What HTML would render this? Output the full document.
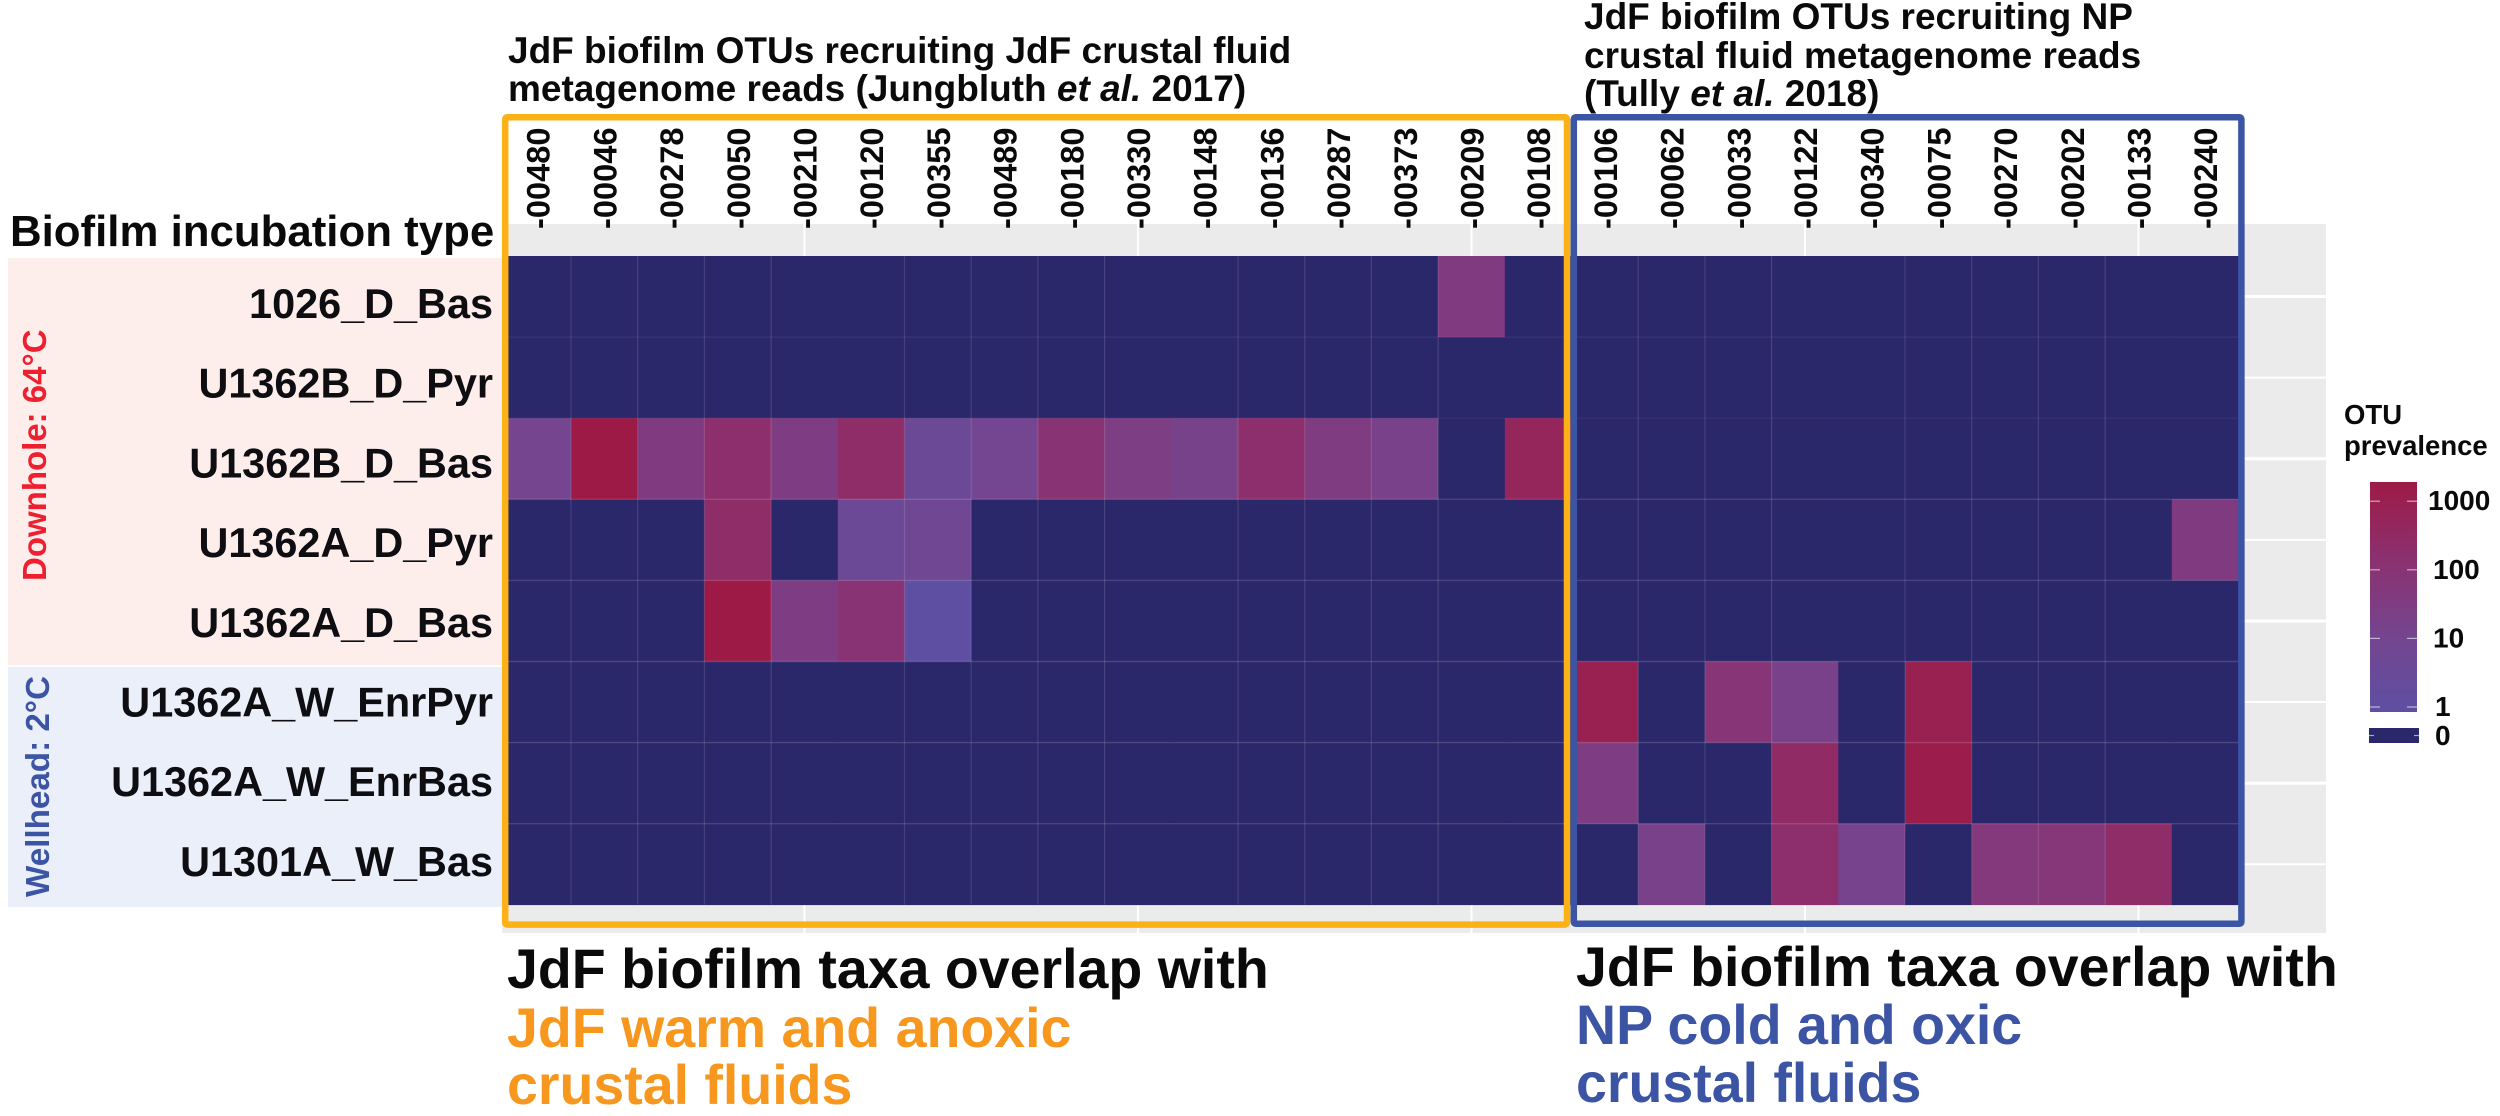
<!DOCTYPE html>
<html lang="en">
<head>
<meta charset="utf-8">
<title>JdF biofilm OTU prevalence heatmap</title>
<style>
html,body{margin:0;padding:0;background:#fff;width:2500px;height:1116px;overflow:hidden}
svg{display:block;font-family:"Liberation Sans",Arial,sans-serif;font-weight:700}
</style>
</head>
<body>
<svg id="chart" xmlns="http://www.w3.org/2000/svg" width="2500" height="1116" viewBox="0 0 2500 1116">
  <defs>
    <linearGradient id="colorbar-gradient" x1="0" y1="1" x2="0" y2="0">
      <stop offset="0" stop-color="#5e4fa2"/>
      <stop offset="0.33" stop-color="#75458f"/>
      <stop offset="0.66" stop-color="#8b3170"/>
      <stop offset="1" stop-color="#9e1a46"/>
    </linearGradient>
  </defs>

  <rect x="8" y="258" width="496" height="407" fill="#fdeeec"/>
  <rect x="8" y="667" width="496" height="240" fill="#ebeff9"/>
  <rect x="502" y="224" width="1824" height="709" fill="#ebebeb"/>
  <rect x="502" y="114" width="1742" height="110" fill="#ffffff"/>

  <g id="panel-grid"></g>
  <g id="cells"></g>
  <g id="cell-grid"></g>
  <g id="x-ticks"></g>
  <g id="y-ticks"></g>

  <rect x="505.2" y="117.2" width="1061.8" height="807.4" rx="2" fill="none" stroke="#fcb116" stroke-width="6.5"/>
  <rect x="1573.8" y="117.2" width="667.6" height="806.6" rx="2" fill="none" stroke="#3b54a4" stroke-width="6.5"/>

  <text x="10" y="246" font-size="43.8" fill="#0a0a0a">Biofilm incubation type</text>
  <text transform="translate(46 581) rotate(-90)" font-size="33" fill="#ee2030">Downhole: 64°C</text>
  <text transform="translate(49 897) rotate(-90)" font-size="33.2" fill="#3b54a4">Wellhead: 2°C</text>

  <g fill="#0a0a0a" font-size="37">
    <text x="508" y="63">JdF biofilm OTUs recruiting JdF crustal fluid</text>
    <text x="508" y="101">metagenome reads (Jungbluth <tspan font-style="italic">et al.</tspan> 2017)</text>
  </g>
  <g fill="#0a0a0a" font-size="37">
    <text x="1584" y="29">JdF biofilm OTUs recruiting NP</text>
    <text x="1584" y="68">crustal fluid metagenome reads</text>
    <text x="1584" y="106">(Tully <tspan font-style="italic">et al.</tspan> 2018)</text>
  </g>

  <g font-size="55.5">
    <text x="507" y="988" fill="#0a0a0a">JdF biofilm taxa overlap with</text>
    <text x="507" y="1047" fill="#f7971d">JdF warm and anoxic</text>
    <text x="507" y="1104" fill="#f7971d">crustal fluids</text>
  </g>
  <g font-size="55.5">
    <text x="1576" y="986" fill="#0a0a0a">JdF biofilm taxa overlap with</text>
    <text x="1576" y="1044" fill="#3b54a4">NP cold and oxic</text>
    <text x="1576" y="1102" fill="#3b54a4">crustal fluids</text>
  </g>

  <g id="legend">
    <text x="2344" y="424" font-size="27.5" fill="#0a0a0a">OTU</text>
    <text x="2344" y="455" font-size="27.5" fill="#0a0a0a">prevalence</text>
    <rect x="2370" y="482" width="47" height="230" fill="url(#colorbar-gradient)"/>
    <rect x="2369" y="728" width="50" height="15" fill="#2b276b"/>
  </g>
</svg>

<script>
const columns = ["-00480","-00046","-00278","-00050","-00210","-00120","-00355","-00489","-00180","-00330","-00148","-00136","-00287","-00373","-00209","-00108","-00106","-00062","-00033","-00122","-00340","-00075","-00270","-00202","-00133","-00240"];
const rows = ["1026_D_Bas","U1362B_D_Pyr","U1362B_D_Bas","U1362A_D_Pyr","U1362A_D_Bas","U1362A_W_EnrPyr","U1362A_W_EnrBas","U1301A_W_Bas"];
const row0 = [0,0,0,0,0,0,0,0,0,0,0,0,0,0,30,0,0,0,0,0,0,0,0,0,0,0];
const row1 = [0,0,0,0,0,0,0,0,0,0,0,0,0,0,0,0,0,0,0,0,0,0,0,0,0,0];
const row2 = [10,1000,30,120,25,150,4,9,70,22,13,120,28,15,0,300,0,0,0,0,0,0,0,0,0,0];
const row3 = [0,0,0,150,0,4,6,0,0,0,0,0,0,0,0,0,0,0,0,0,0,0,0,0,0,30];
const row4 = [0,0,0,1000,25,70,1,0,0,0,0,0,0,0,0,0,0,0,0,0,0,0,0,0,0,0];
const row5 = [0,0,0,0,0,0,0,0,0,0,0,0,0,0,0,0,500,0,60,15,0,500,0,0,0,0];
const row6 = [0,0,0,0,0,0,0,0,0,0,0,0,0,0,0,0,25,0,0,180,0,700,0,0,0,0];
const row7 = [0,0,0,0,0,0,0,0,0,0,0,0,0,0,0,0,0,15,0,120,12,0,40,50,150,0];
const legendTicks = [1000,100,10,1,0];

const NS = "http://www.w3.org/2000/svg";
const matrix = [row0,row1,row2,row3,row4,row5,row6,row7];

const plotLeft = 504.3, colWidth = 66.7, plotTop = 256, rowHeight = 81.1;
const xScale = i => plotLeft + i * colWidth;
const yScale = i => plotTop + i * rowHeight;
const rowLabelBaseline = i => 318 + 79.7 * i;
const legendY = v => 707 - Math.log10(v) * 68.6;

const colorStops = [[0,[94,79,162]],[0.33,[117,69,143]],[0.66,[139,49,112]],[1,[158,26,70]]];
function fillFor(v){
  if(v <= 0) return "#2b276b";
  const t = Math.min(1, Math.log10(v) / 3);
  for(let k = 1; k < colorStops.length; k++){
    if(t <= colorStops[k][0]){
      const a = colorStops[k-1], b = colorStops[k];
      const f = (t - a[0]) / (b[0] - a[0]);
      const c = a[1].map((x, j) => Math.round(x + (b[1][j] - x) * f));
      return "rgb(" + c.join(",") + ")";
    }
  }
  return "#9e1a46";
}
function make(tag, attrs, parent){
  const el = document.createElementNS(NS, tag);
  for(const k in attrs) el.setAttribute(k, attrs[k]);
  parent.appendChild(el);
  return el;
}

const panelGrid = document.getElementById("panel-grid");
columns.forEach((c, i) => {
  if(i % 5 !== 4) return;
  const line = make("line", {x1: xScale(i + .5), x2: xScale(i + .5), y1: 224, y2: 933, stroke: "#ffffff", "stroke-width": 2}, panelGrid);
  
  
});
rows.forEach((r, i) => {
  const line = make("line", {x1: 2244, x2: 2326, y1: yScale(i + .5), y2: yScale(i + .5), stroke: "#ffffff", "stroke-width": i % 2 ? 2 : 3}, panelGrid);
  
  
});

const cells = document.getElementById("cells");
matrix.forEach((vals, r) => {
  vals.forEach((v, c) => {
    const cell = make("rect", {x: xScale(c), y: yScale(r), width: colWidth + .3, height: rowHeight + .3, fill: fillFor(v)}, cells);
    
    
  });
});

const cellGrid = document.getElementById("cell-grid");
for(let c = 1; c < columns.length; c++){
  if(c % 5 === 0) continue;
  const line = make("line", {x1: xScale(c), x2: xScale(c), y1: yScale(0), y2: yScale(rows.length), stroke: "rgba(255,255,255,.12)", "stroke-width": 1.2}, cellGrid);
  
  
}
for(let r = 1; r < rows.length; r++){
  const line = make("line", {x1: xScale(0), x2: xScale(columns.length), y1: yScale(r), y2: yScale(r), stroke: r < 3 ? "rgba(255,255,255,.05)" : "rgba(255,255,255,.14)", "stroke-width": 1.4}, cellGrid);
  
  
}

const xTicks = document.getElementById("x-ticks");
columns.forEach((label, i) => {
  const t = make("text", {transform: "translate(" + (xScale(i + .5) + 12) + " 229) rotate(-90)", "font-size": 32.6, fill: "#0a0a0a"}, xTicks);
  t.textContent = label;
  
  
});

const yTicks = document.getElementById("y-ticks");
rows.forEach((label, i) => {
  const t = make("text", {x: 493, y: rowLabelBaseline(i), "text-anchor": "end", "font-size": 41.4, fill: "#0d0d12"}, yTicks);
  t.textContent = label;
  
  
});

const legend = document.getElementById("legend");
legendTicks.forEach(v => {
  const y = v > 0 ? legendY(v) : 735.5;
  const x0 = v > 0 ? 2370 : 2369, x1 = v > 0 ? 2417 : 2419;
  const a = make("line", {x1: x0, x2: x0 + (v > 0 ? 10 : 5), y1: y, y2: y, stroke: "rgba(255,255,255,.6)", "stroke-width": 1.2}, legend);
  
  
  const b = make("line", {x1: x1 - (v > 0 ? 10 : 5), x2: x1, y1: y, y2: y, stroke: "rgba(255,255,255,.6)", "stroke-width": 1.2}, legend);
  
  
  const labelX = v >= 1000 ? 2428 : (v >= 10 ? 2433 : 2435);
  const t = make("text", {x: labelX, y: v > 0 ? y + 9 : 745, "font-size": 28, fill: "#0a0a0a"}, legend);
  t.textContent = String(v);
  
  
});
</script>
</body>
</html>
